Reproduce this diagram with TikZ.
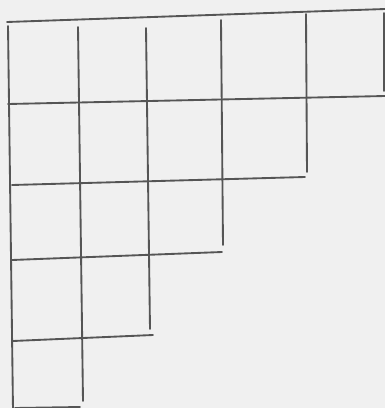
\documentclass[tikz,border=0pt]{standalone}
\definecolor{paper}{RGB}{240,240,240}
\definecolor{pencil}{RGB}{85,85,85}
\begin{document}
\begin{tikzpicture}[x=0.75pt,y=-0.75pt]
    \fill[paper] (0,0) rectangle (385,408);
    \useasboundingbox (0,0) rectangle (385,408);
    \clip (0,0) rectangle (385,408);
    \tikzset{edge/.style={draw=pencil,line width=1.4pt,line cap=round}}
    % horizontal strokes
    \draw[edge] (7,22) -- (385,9);
    \draw[edge] (8,104) -- (385,96);
    \draw[edge] (12,185) -- (305,177);
    \draw[edge] (12,260) -- (222,252);
    \draw[edge] (13,341) -- (153,335);
    \draw[edge] (15,408) -- (80,407);
    % vertical strokes
    \draw[edge] (8,26) -- (13,410);
    \draw[edge] (78,27) -- (83,401);
    \draw[edge] (146,28) -- (150,329);
    \draw[edge] (221,20) -- (223,245);
    \draw[edge] (306,14) -- (307,172);
    \draw[edge] (384,13) -- (384,91);
\end{tikzpicture}
\end{document}
